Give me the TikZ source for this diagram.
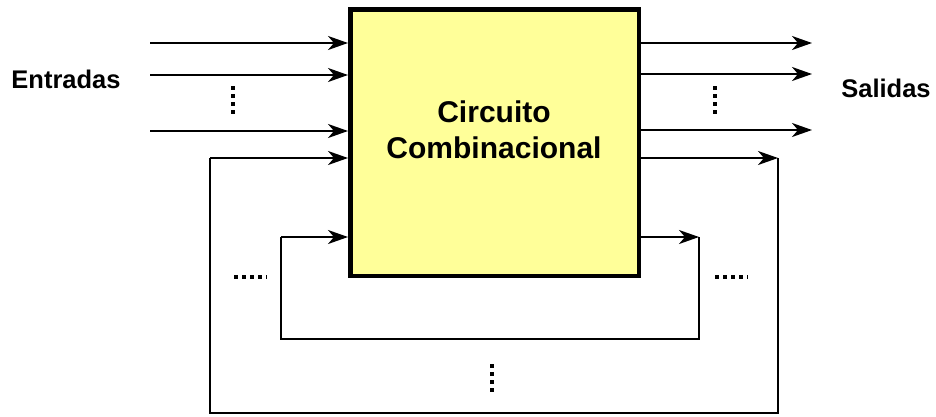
\documentclass[tikz,border=0pt]{standalone}
\usepackage{fontspec}
\setmainfont{Liberation Sans}
\usetikzlibrary{arrows.meta}
\definecolor{amarillo}{RGB}{255,255,153}

\tikzset{
  flecha/.style={line width=2pt,-{Stealth[length=20pt,width=14pt,inset=6pt]}},
  lazo/.style={line width=1.9pt},
  puntos/.style={line width=4pt,dash pattern=on 4pt off 4pt},
  etiqueta/.style={font=\fontsize{25.5}{30}\selectfont\bfseries,inner sep=0pt},
  titulo/.style={font=\fontsize{30}{35.5}\selectfont\bfseries,inner sep=0pt,align=center}
}

\begin{document}
\begin{tikzpicture}[line join=miter,x=1pt,y=-1pt]
	\useasboundingbox (0,0) rectangle (936,416);
	% bloque
	\node[draw,line width=4.5pt,fill=amarillo,minimum width=288.5pt,minimum height=266.5pt] (cc) at (494.5,142.5) {};
	\node[titulo] (nombre) at (494,130) {Circuito\\Combinacional};
	% textos
	\node[etiqueta] (ent) at (66,79) {Entradas};
	\node[etiqueta] (sal) at (886,88) {Salidas};
	% entradas
	\coordinate (e1) at (150,43);
	\coordinate (e2) at (150,75);
	\coordinate (e3) at (150,131);
	\draw[flecha] (e1) -- (e1 -| cc.west);
	\draw[flecha] (e2) -- (e2 -| cc.west);
	\draw[flecha] (e3) -- (e3 -| cc.west);
	\draw[puntos] (233,86) -- (233,114);
	% salidas
	\coordinate (s1) at (812,43);
	\coordinate (s2) at (812,74);
	\coordinate (s3) at (812,130);
	\draw[flecha] (s1 -| cc.east) -- (s1);
	\draw[flecha] (s2 -| cc.east) -- (s2);
	\draw[flecha] (s3 -| cc.east) -- (s3);
	\draw[puntos] (715,86) -- (715,114);
	% lazo exterior
	\coordinate (r1) at (778,158);
	\coordinate (r2) at (778,413);
	\coordinate (r3) at (210,413);
	\coordinate (r4) at (210,158);
	\draw[flecha] (cc.east |- r1) -- (r1);
	\draw[lazo] (r1) -- (r2) -- (r3) -- (r4);
	\draw[flecha] (r4) -- (r4 -| cc.west);
	\draw[puntos] (492,364) -- (492,392);
	% lazo interior
	\coordinate (q1) at (699,237);
	\coordinate (q2) at (699,339);
	\coordinate (q3) at (281,339);
	\coordinate (q4) at (281,237);
	\draw[flecha] (cc.east |- q1) -- (q1);
	\draw[lazo] (q1) -- (q2) -- (q3) -- (q4);
	\draw[flecha] (q4) -- (q4 -| cc.west);
	\draw[puntos,line width=3.5pt] (234,277) -- (267,277);
	\draw[puntos,line width=3.5pt] (715,277) -- (748,277);
\end{tikzpicture}
\end{document}
